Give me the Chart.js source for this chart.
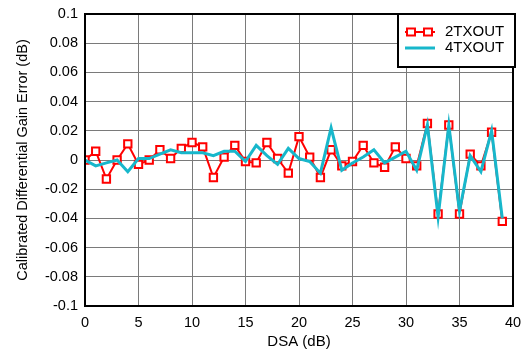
<!DOCTYPE html>
<html>
<head>
<meta charset="utf-8">
<script src="https://cdn.jsdelivr.net/npm/chart.js@4/dist/chart.umd.min.js"></script>
<style>
  html, body { margin: 0; padding: 0; background: #fff; }
  #wrap { width: 524px; height: 351px; }
</style>
</head>
<body>
<div id="wrap"><canvas id="gainChart" width="524" height="351"></canvas></div>
<script>
// DSA steps (dB)
const dsa = [0, 1, 2, 3, 4, 5, 6, 7, 8, 9, 10, 11, 12, 13, 14, 15, 16, 17, 18, 19,
  20, 21, 22, 23, 24, 25, 26, 27, 28, 29, 30, 31, 32, 33, 34, 35, 36, 37, 38, 39];
// calibrated differential gain error (dB)
const tx2 = [0.000, 0.006, -0.013, 0.000, 0.011, -0.003, 0.000, 0.007, 0.001, 0.008,
  0.012, 0.009, -0.012, 0.002, 0.010, -0.001, -0.002, 0.012, 0.001, -0.009,
  0.016, 0.002, -0.012, 0.007, -0.004, -0.001, 0.010, -0.002, -0.005, 0.009,
  0.001, -0.004, 0.025, -0.037, 0.024, -0.037, 0.004, -0.004, 0.019, -0.042];
const tx4 = [0.000, -0.004, -0.002, 0.000, -0.008, 0.001, 0.001, 0.004, 0.007, 0.005,
  0.005, 0.005, 0.003, 0.006, 0.006, -0.001, 0.010, 0.003, -0.003, 0.008,
  0.001, -0.001, -0.009, 0.022, -0.007, -0.002, 0.002, 0.007, -0.002, 0.002,
  0.006, -0.007, 0.024, -0.039, 0.024, -0.035, 0.003, -0.008, 0.020, -0.040];
const seriesNames = ['2TXOUT', '4TXOUT'];

const FONT = "'Liberation Sans', Arial, sans-serif";
const RED = '#ff0000';
const CYAN = '#17b7cb';

// frame round the plot area
const framePlugin = {
  id: 'frame',
  afterDatasetsDraw(chart) {
    const a = chart.chartArea, ctx = chart.ctx;
    ctx.save();
    ctx.strokeStyle = '#000';
    ctx.lineWidth = 2;
    ctx.strokeRect(a.left, a.top, a.right - a.left, a.bottom - a.top);
    ctx.restore();
  }
};

// boxed legend in the top right corner
const boxLegend = {
  id: 'boxLegend',
  afterDraw(chart) {
    const ctx = chart.ctx, a = chart.chartArea;
    const x = a.right - 115, y = a.top, w = 117, h = 53;
    ctx.save();
    ctx.fillStyle = '#fff';
    ctx.fillRect(x, y, w, h);
    ctx.strokeStyle = '#000';
    ctx.lineWidth = 2;
    ctx.strokeRect(x, y, w, h);
    ctx.font = '15px ' + FONT;
    ctx.textBaseline = 'middle';
    chart.data.datasets.forEach(function (ds, i) {
      const ly = y + 18 + i * 16;
      ctx.strokeStyle = ds.borderColor;
      ctx.lineWidth = ds.borderWidth;
      ctx.beginPath();
      ctx.moveTo(x + 7, ly);
      ctx.lineTo(x + 37, ly);
      ctx.stroke();
      if (ds.pointRadius > 0) {
        [x + 13, x + 30].forEach(function (px) {
          ctx.fillStyle = '#fff';
          ctx.fillRect(px - 4, ly - 3.5, 8, 7);
          ctx.lineWidth = 2;
          ctx.strokeRect(px - 4, ly - 3.5, 8, 7);
        });
      }
      ctx.fillStyle = '#000';
      ctx.fillText(ds.label, x + 47, ly);
    });
    ctx.restore();
  }
};

const ctx = document.getElementById('gainChart').getContext('2d');
new Chart(ctx, {
  type: 'line',
  data: {
    datasets: [
      {
        label: seriesNames[0],
        data: dsa.map((d, i) => ({ x: d, y: tx2[i] })),
        borderColor: RED,
        borderWidth: 2,
        pointStyle: 'rect',
        pointRadius: 5.2,
        pointBorderWidth: 2,
        pointBackgroundColor: '#fff',
        pointBorderColor: RED,
        tension: 0,
        order: 1
      },
      {
        label: seriesNames[1],
        data: dsa.map((d, i) => ({ x: d, y: tx4[i] })),
        borderColor: CYAN,
        borderWidth: 3,
        pointRadius: 0,
        tension: 0,
        order: 0
      }
    ]
  },
  options: {
    responsive: false,
    animation: false,
    layout: { autoPadding: false, padding: { left: 0, right: 11, top: 14, bottom: 0 } },
    plugins: {
      legend: { display: false },
      tooltip: { enabled: false }
    },
    scales: {
      x: {
        type: 'linear',
        min: 0,
        max: 40,
        ticks: { stepSize: 5, color: '#000', font: { family: FONT, size: 14.5 }, padding: 8, maxRotation: 0 },
        grid: { color: '#7a7a7a', lineWidth: 1, drawTicks: false },
        border: { display: false },
        title: { display: true, text: 'DSA (dB)', color: '#000', font: { family: FONT, size: 15 }, padding: { top: 0, bottom: 0 } },
        afterFit(scale) {
          scale.height = 45;
          scale.paddingLeft = 0;
          scale.paddingRight = 0;
        }
      },
      y: {
        min: -0.1,
        max: 0.1,
        ticks: {
          stepSize: 0.02,
          color: '#000',
          font: { family: FONT, size: 14.5 },
          padding: 7,
          callback: function (v) { return parseFloat(v.toFixed(2)).toString(); }
        },
        grid: { color: '#7a7a7a', lineWidth: 1, drawTicks: false },
        border: { display: false },
        title: { display: true, text: 'Calibrated Differential Gain Error (dB)', color: '#000', font: { family: FONT, size: 14.5 }, padding: { top: 14, bottom: 0 } },
        afterFit(scale) {
          scale.width = 85;
          scale.paddingTop = 0;
          scale.paddingBottom = 0;
        }
      }
    }
  },
  plugins: [framePlugin, boxLegend]
});
</script>
</body>
</html>
